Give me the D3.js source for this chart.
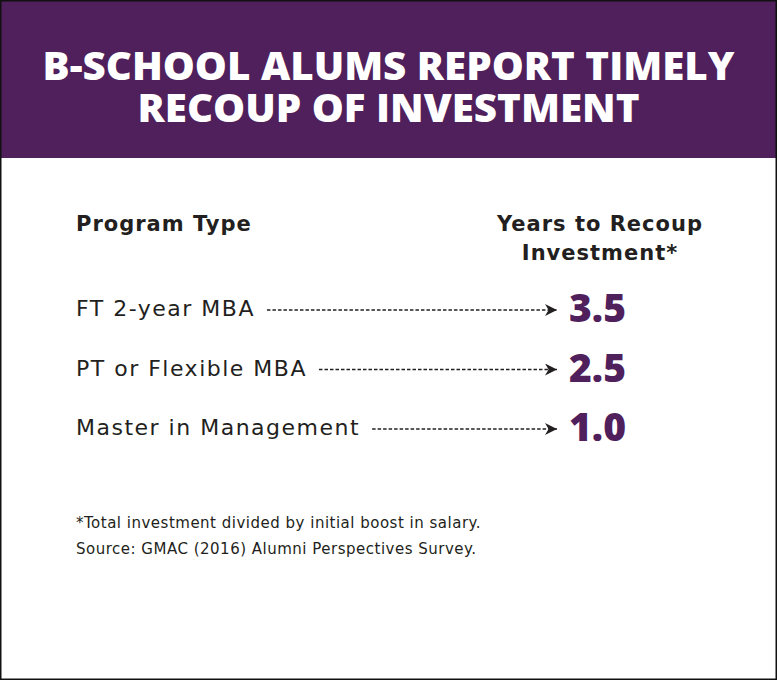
<!DOCTYPE html>
<html>
<head>
<meta charset="utf-8">
<script src="https://cdn.jsdelivr.net/npm/d3@7"></script>
<style>
  body { margin: 0; background: #fff; }
  svg { display: block; }
</style>
</head>
<body>
<div id="chart"></div>
<script>
// datos del gráfico
const titleLines = ['B-SCHOOL ALUMS REPORT TIMELY', 'RECOUP OF INVESTMENT'];
const programs = ['FT 2-year MBA', 'PT or Flexible MBA', 'Master in Management'];
const years = [3.5, 2.5, 1.0];
const colHeaders = ['Program Type', 'Years to Recoup', 'Investment*'];
const notes = ['*Total investment divided by initial boost in salary.',
               'Source: GMAC (2016) Alumni Perspectives Survey.'];

let width = 777;
let height = 680;
const purple = '#4f205b';
const ink = '#231f20';
const font = "'Open Sans', 'Noto Sans', sans-serif";
const bodyFont = "'DejaVu Sans', 'Open Sans', sans-serif";

let svg = d3.select('#chart')
    .append('svg')
    .attr('width', width)
    .attr('height', height);

svg.append('rect')
    .attr('x', 0).attr('y', 0)
    .attr('width', width).attr('height', height)
    .attr('fill', '#fff');

// cabecera morada
svg.append('rect')
    .attr('x', 0).attr('y', 0)
    .attr('width', width).attr('height', 158)
    .attr('fill', purple);

// título en un solo bloque de texto con dos líneas
const titleWidths = [692, 502];
svg.append('text')
    .attr('text-anchor', 'middle')
    .attr('font-family', font)
    .attr('font-weight', 800)
    .attr('font-size', 38)
    .attr('fill', '#fff')
    .selectAll('tspan')
    .data(titleLines)
    .enter().append('tspan')
    .attr('x', width / 2)
    .attr('y', (d, i) => 80 + i * 42)
    .attr('textLength', (d, i) => titleWidths[i])
    .attr('lengthAdjust', 'spacingAndGlyphs')
    .text(d => d);

// encabezados de columnas
svg.append('text')
    .attr('x', 76).attr('y', 231)
    .attr('font-family', bodyFont).attr('font-weight', 700)
    .attr('font-size', 21).attr('letter-spacing', 1)
    .attr('fill', ink)
    .text(colHeaders[0]);

svg.selectAll('.colhead')
    .data(colHeaders.slice(1))
    .enter().append('text')
    .attr('class', 'colhead')
    .attr('x', 600)
    .attr('y', (d, i) => 231 + i * 29)
    .attr('text-anchor', 'middle')
    .attr('font-family', bodyFont).attr('font-weight', 700)
    .attr('font-size', 21).attr('letter-spacing', 1)
    .attr('fill', ink)
    .text(d => d);

// escala de filas
let y = d3.scalePoint()
    .domain(d3.range(programs.length))
    .range([310, 429]);

svg.append('defs').append('marker')
    .attr('id', 'arrow')
    .attr('viewBox', '0 0 10 10')
    .attr('refX', 10).attr('refY', 5)
    .attr('markerWidth', 14).attr('markerHeight', 12)
    .attr('markerUnits', 'userSpaceOnUse')
    .attr('orient', 'auto')
    .append('path')
    .attr('d', 'M0,0 L10,5 L0,10 L3,5 Z')
    .attr('fill', ink);

let rows = svg.selectAll('.row')
    .data(programs)
    .enter().append('g')
    .attr('class', 'row')
    .attr('transform', (d, i) => `translate(0, ${y(i)})`);

rows.append('text')
    .attr('x', 76)
    .attr('y', 6)
    .attr('font-family', bodyFont)
    .attr('font-size', 22)
    .attr('letter-spacing', 1.5)
    .attr('fill', ink)
    .text(d => d);

// flechas punteadas desde el final de cada etiqueta
rows.each(function() {
    let g = d3.select(this);
    let w = g.select('text').node().getComputedTextLength();
    g.append('line')
        .attr('x1', 76 + w + 12)
        .attr('x2', 557)
        .attr('y1', 0).attr('y2', 0)
        .attr('stroke', ink)
        .attr('stroke-width', 1.3)
        .attr('stroke-dasharray', '3.5,2')
        .attr('marker-end', 'url(#arrow)');
});

rows.append('text')
    .attr('x', 569)
    .attr('y', 12)
    .attr('font-family', font)
    .attr('font-weight', 800)
    .attr('font-size', 39)
    .attr('fill', purple)
    .text((d, i) => d3.format('.1f')(years[i]));

// notas al pie
svg.selectAll('.note')
    .data(notes)
    .enter().append('text')
    .attr('class', 'note')
    .attr('x', 76)
    .attr('y', (d, i) => 528 + i * 26)
    .attr('font-family', bodyFont)
    .attr('font-size', 15)
    .attr('letter-spacing', 0.5)
    .attr('fill', ink)
    .text(d => d);

// marco
svg.append('rect')
    .attr('x', 0.75).attr('y', 0.75)
    .attr('width', width - 1.5).attr('height', height - 1.5)
    .attr('fill', 'none')
    .attr('stroke', '#111')
    .attr('stroke-width', 1.5);
</script>
</body>
</html>
